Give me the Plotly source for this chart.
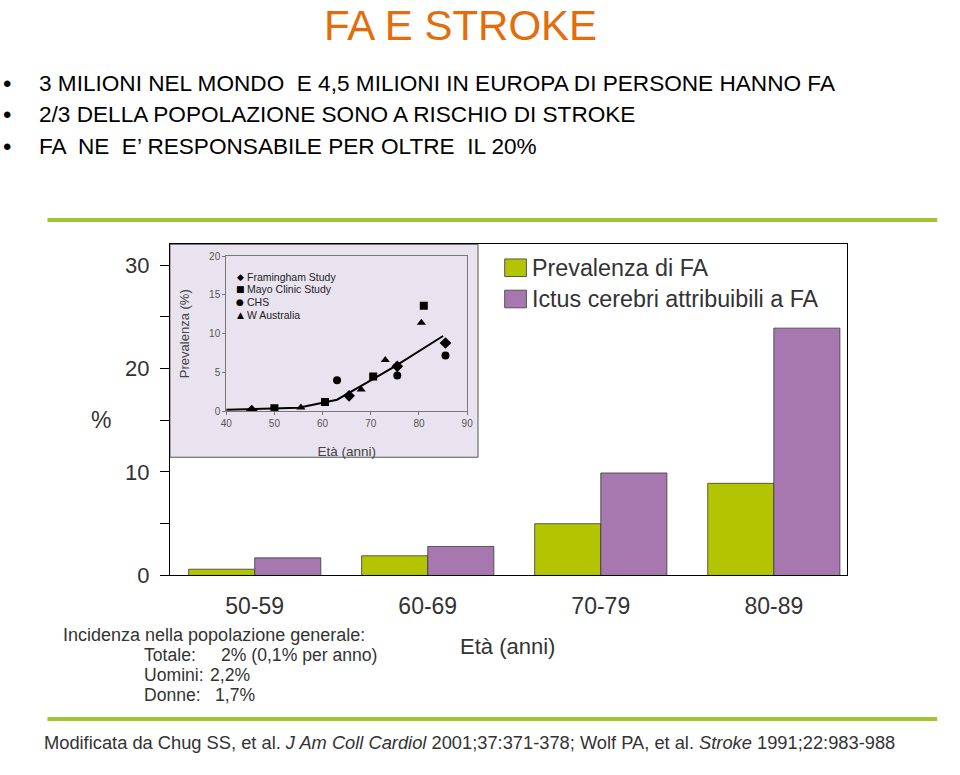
import plotly.graph_objects as go

W, H = 960, 775

# ---------------- data ----------------
age_groups = ["50-59", "60-69", "70-79", "80-89"]
prevalenza_fa = [0.6, 1.9, 5.0, 8.9]
ictus_fa = [1.7, 2.8, 9.9, 23.9]
series_names = ["Prevalenza di FA", "Ictus cerebri attribuibili a FA"]
y_tickvals = [0, 5, 10, 15, 20, 25, 30]
y_ticktext = ["0", "", "10", "", "20", "", "30"]

# inset: prevalence by age (studies)
framingham_x = [45.3, 65.5, 75.5, 85.5]
framingham_y = [0.1, 2.0, 5.8, 8.8]
mayo_x = [50.0, 60.5, 70.5, 81.0]
mayo_y = [0.4, 1.2, 4.5, 13.6]
chs_x = [63.0, 75.5, 85.5]
chs_y = [4.0, 4.6, 7.2]
wa_x = [55.5, 68.0, 73.0, 80.5]
wa_y = [0.5, 2.8, 6.6, 11.4]
trend_x = [40, 55, 60, 63, 70, 75, 85]
trend_y = [0.2, 0.45, 1.1, 1.5, 4.0, 5.8, 9.7]
inset_names = ["Framingham Study", "Mayo Clinic Study", "CHS", "W Australia"]
inset_symbols = ["\u25C6", "\u25A0", "\u25CF", "\u25B2"]
inset_xticks = [40, 50, 60, 70, 80, 90]
inset_yticks = [0, 5, 10, 15, 20]

title_text = "FA E STROKE"
bullets = [
    "3 MILIONI NEL MONDO  E 4,5 MILIONI IN EUROPA DI PERSONE HANNO FA",
    "2/3 DELLA POPOLAZIONE SONO A RISCHIO DI STROKE",
    "FA  NE  E\u2019 RESPONSABILE PER OLTRE  IL 20%",
]
incid_head = "Incidenza nella popolazione generale:"
incid_labels = ["Totale:", "Uomini:", "Donne:"]
incid_values = ["2% (0,1% per anno)", "2,2%", "1,7%"]
citation = ("Modificata da Chug SS, et al. <i>J Am Coll Cardiol</i> 2001;37:371-378; "
            "Wolf PA, et al. <i>Stroke</i> 1991;22:983-988")

# ---------------- style ----------------
GREEN = "#b3c500"
PURPLE = "#a777b0"
LINE_GREEN = "#a0c432"
ORANGE = "#e46c0a"
INSET_BG = "#e9e3ef"
TXT = "#333333"
SANS = "Liberation Sans, Arial, Helvetica, sans-serif"


def px(x):
    return x / W


def py(y):
    return 1 - y / H


fig = go.Figure()

fig.add_trace(go.Bar(x=age_groups, y=prevalenza_fa, name=series_names[0],
                     marker=dict(color=GREEN, line=dict(color="#3a3a3a", width=0.8)),
                     xaxis="x", yaxis="y", showlegend=False))
fig.add_trace(go.Bar(x=age_groups, y=ictus_fa, name=series_names[1],
                     marker=dict(color=PURPLE, line=dict(color="#3a3a3a", width=0.8)),
                     xaxis="x", yaxis="y", showlegend=False))

# inset traces
fig.add_trace(go.Scatter(x=trend_x, y=trend_y, mode="lines",
                         line=dict(color="black", width=2),
                         xaxis="x2", yaxis="y2", showlegend=False))
for xs, ys, sym, nm in [(framingham_x, framingham_y, "diamond", inset_names[0]),
                        (mayo_x, mayo_y, "square", inset_names[1]),
                        (chs_x, chs_y, "circle", inset_names[2]),
                        (wa_x, wa_y, "triangle-up", inset_names[3])]:
    fig.add_trace(go.Scatter(x=xs, y=ys, mode="markers", name=nm,
                             marker=dict(symbol=sym, color="black", size=8 if sym != "diamond" else 9),
                             xaxis="x2", yaxis="y2", showlegend=False))

shapes = []
# green separator lines
for yy in (220, 731):
    shapes.append(dict(type="line", xref="paper", yref="paper",
                       x0=px(42), x1=px(943), y0=py(yy), y1=py(yy),
                       line=dict(color=LINE_GREEN, width=4)))
# inset background box
shapes.append(dict(type="rect", xref="paper", yref="paper", layer="below",
                   x0=px(166), x1=px(478), y0=py(463), y1=py(245),
                   fillcolor=INSET_BG, line=dict(color="#555555", width=1)))
# legend swatches
for col, yc in [(GREEN, 269), (PURPLE, 301)]:
    shapes.append(dict(type="rect", xref="paper", yref="paper",
                       x0=px(505), x1=px(527), y0=py(yc + 9), y1=py(yc - 9),
                       fillcolor=col, line=dict(color="#555555", width=1)))

ann = []
ann.append(dict(text=title_text, x=px(460), y=py(21), xref="paper", yref="paper",
                showarrow=False, xanchor="center", yanchor="middle",
                font=dict(family=SANS, size=42, color=ORANGE)))
for t, yy in zip(bullets, [80, 112, 145]):
    ann.append(dict(text="\u2022", x=px(-5), y=py(yy), xref="paper", yref="paper",
                    showarrow=False, xanchor="left", yanchor="middle",
                    font=dict(family=SANS, size=24, color="black")))
    ann.append(dict(text=t, x=px(31), y=py(yy), xref="paper", yref="paper",
                    showarrow=False, xanchor="left", yanchor="middle",
                    font=dict(family=SANS, size=22.6, color="black")))
# legend text
for nm, yc in zip(series_names, [269, 301]):
    ann.append(dict(text=nm, x=px(531), y=py(yc), xref="paper", yref="paper",
                    showarrow=False, xanchor="left", yanchor="middle",
                    font=dict(family=SANS, size=23.3, color=TXT)))
# % label
ann.append(dict(text="%", x=px(96), y=py(425), xref="paper", yref="paper",
                showarrow=False, xanchor="center", yanchor="middle",
                font=dict(family=SANS, size=23, color=TXT)))
# inset legend
for sym, nm, yc in zip(inset_symbols, inset_names, [278, 291, 304, 317]):
    ann.append(dict(text=sym, x=px(237), y=py(yc), xref="paper", yref="paper",
                    showarrow=False, xanchor="center", yanchor="middle",
                    font=dict(family="DejaVu Sans", size=9, color="black")))
    ann.append(dict(text=nm, x=px(242), y=py(yc), xref="paper", yref="paper",
                    showarrow=False, xanchor="left", yanchor="middle",
                    font=dict(family=SANS, size=10.5, color="#222222")))
# incidence text
ann.append(dict(text=incid_head, x=px(56), y=py(645), xref="paper", yref="paper",
                showarrow=False, xanchor="left", yanchor="middle",
                font=dict(family=SANS, size=18, color=TXT)))
for lab, val, yy, vx in zip(incid_labels, incid_values, [665, 686, 706], [216, 205, 210]):
    ann.append(dict(text=lab, x=px(138), y=py(yy), xref="paper", yref="paper",
                    showarrow=False, xanchor="left", yanchor="middle",
                    font=dict(family=SANS, size=17.6, color=TXT)))
    ann.append(dict(text=val, x=px(vx), y=py(yy), xref="paper", yref="paper",
                    showarrow=False, xanchor="left", yanchor="middle",
                    font=dict(family=SANS, size=17.6, color=TXT)))
ann.append(dict(text="Età (anni)", x=px(508), y=py(657), xref="paper", yref="paper",
                showarrow=False, xanchor="center", yanchor="middle",
                font=dict(family=SANS, size=22, color=TXT)))
ann.append(dict(text=citation, x=px(36), y=py(755), xref="paper", yref="paper",
                showarrow=False, xanchor="left", yanchor="middle",
                font=dict(family=SANS, size=18.3, color=TXT)))

fig.update_layout(
    width=W, height=H, margin=dict(l=0, r=0, t=0, b=0),
    paper_bgcolor="white", plot_bgcolor="rgba(0,0,0,0)",
    barmode="group", bargap=0.236, bargroupgap=0,
    shapes=shapes, annotations=ann,
    xaxis=dict(domain=[px(166), px(852)], type="category",
               range=[-0.49, 3.425], showline=True, linecolor="black", linewidth=1.3,
               mirror=True, ticks="", showgrid=False, zeroline=False,
               tickfont=dict(family=SANS, size=23, color=TXT), ticklabelstandoff=10,
               anchor="y", fixedrange=True),
    yaxis=dict(domain=[py(584), py(245)], range=[0, 32],
               tickvals=y_tickvals, ticktext=y_ticktext,
               showline=True, linecolor="black", linewidth=1.3, mirror=True,
               ticks="outside", ticklen=9, tickwidth=1.3, tickcolor="black",
               showgrid=False, zeroline=False, ticklabelstandoff=6,
               tickfont=dict(family=SANS, size=22, color=TXT),
               anchor="x"),
    xaxis2=dict(domain=[px(223), px(467)], range=[40, 90], tickvals=inset_xticks,
                showline=True, linecolor="#777777", linewidth=1, mirror=True,
                ticks="outside", ticklen=3, tickcolor="#777777",
                showgrid=False, zeroline=False,
                tickfont=dict(family=SANS, size=10, color="#555555"),
                title=dict(text="Età (anni)", font=dict(family=SANS, size=13.5, color="#444444"),
                           standoff=18),
                anchor="y2"),
    yaxis2=dict(domain=[py(416), py(257)], range=[0, 20], tickvals=inset_yticks,
                showline=True, linecolor="#777777", linewidth=1, mirror=True,
                ticks="outside", ticklen=3, tickcolor="#777777",
                showgrid=False, zeroline=False,
                tickfont=dict(family=SANS, size=10, color="#555555"),
                title=dict(text="Prevalenza (%)", font=dict(family=SANS, size=13, color="#444444"),
                           standoff=16),
                anchor="x2"),
)

fig.write_html("out.html")
